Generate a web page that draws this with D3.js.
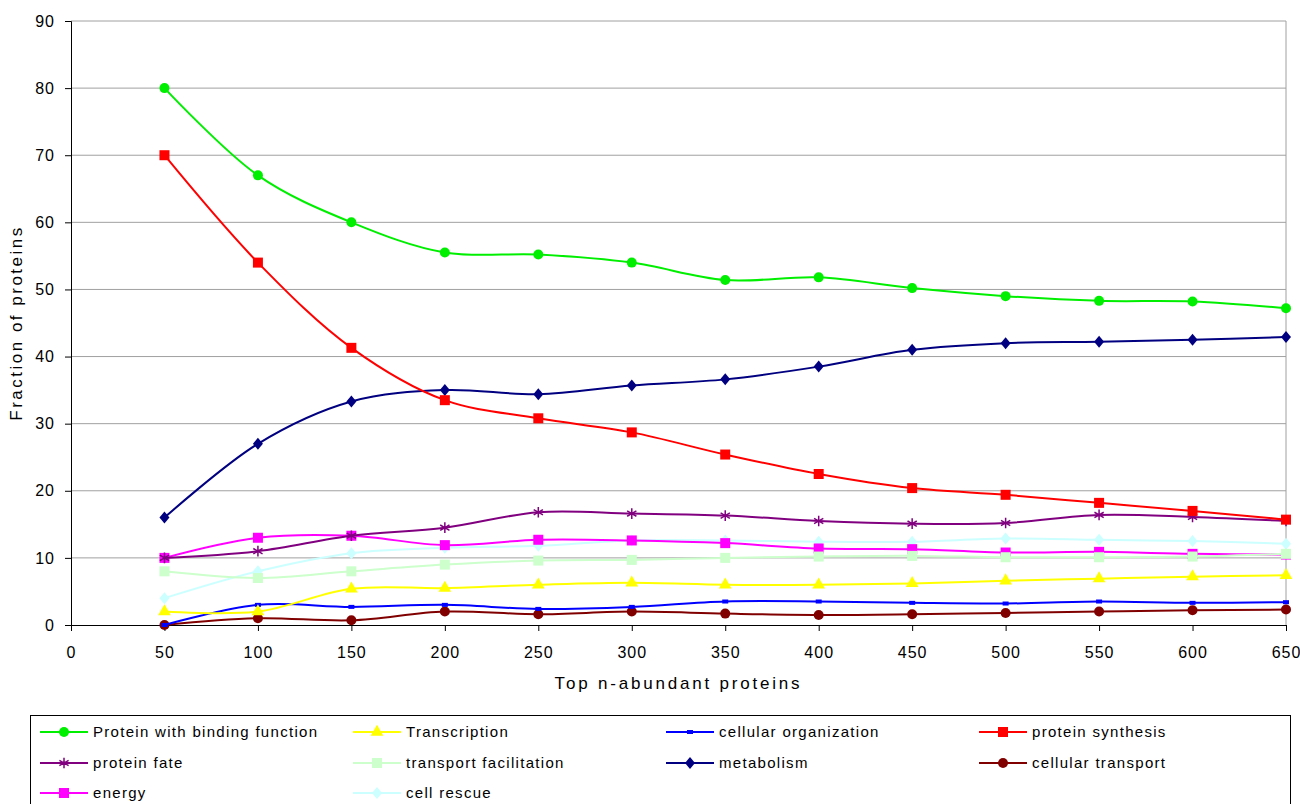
<!DOCTYPE html>
<html>
<head>
<meta charset="utf-8">
<script src="https://cdn.jsdelivr.net/npm/d3@7"></script>
<style>
  body { margin: 0; background: #fff; }
  text { font-family: "Liberation Sans", Arial, sans-serif; }
</style>
</head>
<body>
<svg id="chart" width="1300" height="804"></svg>
<script>
// x categories
const topN = [50, 100, 150, 200, 250, 300, 350, 400, 450, 500, 550, 600, 650];
const xTicks = [0, 50, 100, 150, 200, 250, 300, 350, 400, 450, 500, 550, 600, 650];
const yTicks = [0, 10, 20, 30, 40, 50, 60, 70, 80, 90];

// series values
const binding    = [80, 67, 60, 55.5, 55.2, 54, 51.4, 51.8, 50.2, 49, 48.3, 48.2, 47.2];
const transcr    = [2, 2, 5.4, 5.5, 6, 6.3, 6, 6, 6.2, 6.6, 6.9, 7.2, 7.4];
const cellOrg    = [0, 3, 2.7, 3, 2.4, 2.7, 3.5, 3.5, 3.3, 3.2, 3.5, 3.3, 3.4];
const synthesis  = [70, 54, 41.3, 33.5, 30.8, 28.7, 25.4, 22.5, 20.4, 19.4, 18.2, 17, 15.7];
const fate       = [10, 11, 13.3, 14.5, 16.8, 16.6, 16.3, 15.5, 15.1, 15.2, 16.4, 16.1, 15.5];
const transFac   = [8, 7, 8, 9, 9.6, 9.7, 10, 10.2, 10.3, 10.1, 10.1, 10.2, 10.6];
const metabolism = [16, 27, 33.3, 35, 34.4, 35.7, 36.6, 38.5, 41, 42, 42.2, 42.5, 42.9];
const cellTrans  = [0, 1, 0.7, 2, 1.6, 2, 1.7, 1.5, 1.6, 1.8, 2, 2.2, 2.3];
const energy     = [10, 13, 13.3, 11.9, 12.7, 12.6, 12.2, 11.4, 11.3, 10.8, 10.9, 10.6, 10.5];
const rescue     = [4, 8, 10.7, 11.5, 11.8, 12.6, 12.6, 12.4, 12.4, 12.9, 12.7, 12.5, 12.1];

// legend order (draw order = reverse so binding on top)
const series = [
  { name: "Protein with binding function", values: binding, color: "#00ee00", sym: "circle" },
  { name: "Transcription", values: transcr, color: "#ffff00", sym: "triangle" },
  { name: "cellular organization", values: cellOrg, color: "#0000ff", sym: "dash" },
  { name: "protein synthesis", values: synthesis, color: "#ff0000", sym: "square" },
  { name: "protein fate", values: fate, color: "#800080", sym: "star" },
  { name: "transport facilitation", values: transFac, color: "#ccffcc", sym: "square" },
  { name: "metabolism", values: metabolism, color: "#000080", sym: "diamond" },
  { name: "cellular transport", values: cellTrans, color: "#800000", sym: "circle" },
  { name: "energy", values: energy, color: "#ff00ff", sym: "square" },
  { name: "cell rescue", values: rescue, color: "#ccffff", sym: "diamond" }
];

const svg = d3.select("#chart");
const x = d3.scaleLinear().domain([0, 650]).range([71, 1286]);
const y = d3.scaleLinear().domain([0, 90]).range([625, 21]);

// gridlines
svg.append("g").selectAll("line").data(yTicks.slice(1)).enter().append("line")
  .attr("x1", x(0)).attr("x2", x(650))
  .attr("y1", d => y(d)).attr("y2", d => y(d))
  .attr("stroke", "#a0a0a0").attr("stroke-width", 1);
svg.append("line").attr("x1", x(650)).attr("x2", x(650)).attr("y1", y(90)).attr("y2", y(0))
  .attr("stroke", "#a0a0a0");

// axes
const yAxis = svg.append("g").attr("transform", `translate(${x(0)},0)`)
  .call(d3.axisLeft(y).tickValues(yTicks).tickSize(6).tickPadding(10));
const xAxis = svg.append("g").attr("transform", `translate(0,${y(0)})`)
  .call(d3.axisBottom(x).tickValues(xTicks).tickSize(6).tickPadding(16));
[yAxis, xAxis].forEach(a => {
  a.select(".domain").attr("stroke", "#000");
  a.selectAll(".tick line").attr("stroke", "#000");
  a.selectAll("text").attr("font-size", 16).attr("letter-spacing", 1).attr("fill", "#000")
    .style("font-family", "Liberation Sans, Arial, sans-serif");
});

svg.append("text").attr("x", x(325)).attr("y", 689).attr("text-anchor", "middle")
  .attr("font-size", 17).attr("letter-spacing", 2.8).text("Top n-abundant proteins");
svg.append("text").attr("transform", `translate(22,${y(45)}) rotate(-90)`)
  .attr("text-anchor", "middle").attr("font-size", 17).attr("letter-spacing", 2.5)
  .text("Fraction of proteins");

function drawSymbol(g, s, cx, cy) {
  if (s.sym === "circle") {
    g.append("circle").attr("cx", cx).attr("cy", cy).attr("r", 5).attr("fill", s.color);
  } else if (s.sym === "square") {
    g.append("rect").attr("x", cx - 5).attr("y", cy - 5).attr("width", 10).attr("height", 10).attr("fill", s.color);
  } else if (s.sym === "triangle") {
    g.append("path").attr("d", d3.symbol(d3.symbolTriangle, 70)()).attr("transform", `translate(${cx},${cy})`).attr("fill", s.color);
  } else if (s.sym === "diamond") {
    g.append("path").attr("d", `M${cx},${cy - 6}L${cx + 5},${cy}L${cx},${cy + 6}L${cx - 5},${cy}Z`).attr("fill", s.color);
  } else if (s.sym === "dash") {
    g.append("rect").attr("x", cx - 3).attr("y", cy - 2).attr("width", 6).attr("height", 4).attr("fill", s.color);
  } else if (s.sym === "star") {
    g.append("path").attr("d", d3.symbol(d3.symbolAsterisk, 80)()).attr("transform", `translate(${cx},${cy})`)
      .attr("fill", "none").attr("stroke", s.color).attr("stroke-width", 1.5);
  }
}

const line = d3.line().x((d, i) => x(topN[i])).y(d => y(d)).curve(d3.curveCatmullRom.alpha(0.5));
const plot = svg.append("g");
series.slice().reverse().forEach(s => {
  const g = plot.append("g");
  g.append("path").attr("d", line(s.values)).attr("fill", "none")
    .attr("stroke", s.color).attr("stroke-width", 2);
  s.values.forEach((v, i) => drawSymbol(g, s, x(topN[i]), y(v)));
});

// legend
svg.append("rect").attr("x", 30.5).attr("y", 715.5).attr("width", 1260).attr("height", 100)
  .attr("fill", "none").attr("stroke", "#000");
const colX = [40, 353, 666, 979];
const rowY = [732, 763, 793];
series.forEach((s, i) => {
  const lx = colX[i % 4], ly = rowY[Math.floor(i / 4)];
  const g = svg.append("g");
  g.append("line").attr("x1", lx).attr("x2", lx + 48).attr("y1", ly).attr("y2", ly)
    .attr("stroke", s.color).attr("stroke-width", 2);
  drawSymbol(g, s, lx + 24, ly);
  g.append("text").attr("x", lx + 53).attr("y", ly + 5).attr("font-size", 15).attr("letter-spacing", 1.3).text(s.name);
});
</script>
</body>
</html>
